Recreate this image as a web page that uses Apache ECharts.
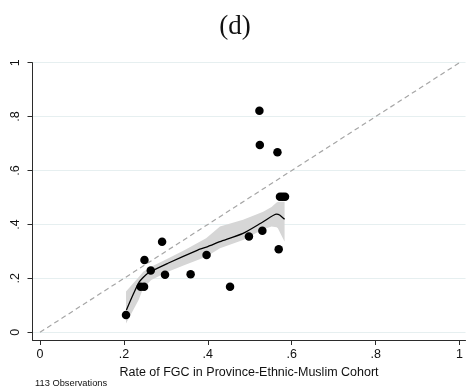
<!DOCTYPE html>
<html>
<head>
<meta charset="utf-8">
<script src="https://cdn.jsdelivr.net/npm/echarts@6/dist/echarts.min.js"></script>
<style>
  html, body { margin: 0; padding: 0; background: #fff; }
  #chart { width: 466px; height: 392px; }
</style>
</head>
<body>
<div id="chart"></div>
<script>
// Cohort-level observations: FGC rate (x) vs. outcome rate (y)
const cohortX = [0.205, 0.240, 0.248, 0.249, 0.264, 0.291, 0.298, 0.359, 0.397, 0.453,
                 0.498, 0.530, 0.569, 0.523, 0.524, 0.566, 0.572, 0.578, 0.584];
const cohortY = [0.064, 0.169, 0.169, 0.268, 0.229, 0.336, 0.213, 0.215, 0.287, 0.169,
                 0.355, 0.377, 0.308, 0.822, 0.695, 0.668, 0.503, 0.503, 0.503];

// Local polynomial fit and its confidence band
const fitX     = [0.206, 0.222, 0.237, 0.257, 0.305, 0.376, 0.400, 0.429, 0.484, 0.532, 0.564, 0.571, 0.583];
const fitY     = [0.083, 0.140, 0.188, 0.219, 0.256, 0.305, 0.318, 0.336, 0.367, 0.410, 0.438, 0.435, 0.419];
const bandX    = [0.205, 0.235, 0.246, 0.265, 0.305, 0.345, 0.396, 0.429, 0.484, 0.532, 0.552, 0.564, 0.567, 0.575, 0.583];
const bandUp   = [0.151, 0.204, 0.225, 0.243, 0.274, 0.305, 0.349, 0.392, 0.417, 0.447, 0.465, 0.481, 0.483, 0.484, 0.484];
const bandLow  = [0.033, 0.120, 0.163, 0.194, 0.225, 0.250, 0.280, 0.312, 0.342, 0.382, 0.392, 0.390, 0.386, 0.361, 0.336];

// 45-degree reference line
const diagonal = [[0, 0], [1, 1]];

// Tick positions and labels
const tickValues = [0, 0.2, 0.4, 0.6, 0.8, 1];
const tickLabels = ['0', '.2', '.4', '.6', '.8', '1'];

const labelOf = v => {
  const i = tickValues.findIndex(t => Math.abs(t - v) < 1e-9);
  return i >= 0 ? tickLabels[i] : '';
};

const points = cohortX.map((x, i) => [x, cohortY[i]]);
const fitLine = fitX.map((x, i) => [x, fitY[i]]);
const band = bandX.map((x, i) => [x, bandLow[i], bandUp[i]]);

const axisColor = '#2b2b2b';
const gridColor = '#e6eff0';
const font = '"Liberation Sans", Arial, Helvetica, sans-serif';

const chart = echarts.init(document.getElementById('chart'), null, { renderer: 'canvas' });

chart.setOption({
  animation: false,
  backgroundColor: '#ffffff',
  title: {
    text: '(d)',
    left: 230,
    top: 8,
    textAlign: 'center',
    textStyle: {
      fontFamily: '"Liberation Serif", "DejaVu Serif", serif',
      fontWeight: 'normal',
      fontSize: 27,
      color: '#111'
    }
  },
  graphic: [{
    type: 'text',
    left: 35,
    top: 379,
    style: {
      text: '113 Observations',
      fontFamily: font,
      fontSize: 9.3,
      fill: '#111'
    }
  }],
  grid: { left: 32.5, right: 0, top: 62.7, bottom: 52, containLabel: false },
  xAxis: {
    type: 'value',
    min: -0.0179,
    max: 1.0143,
    name: 'Rate of FGC in Province-Ethnic-Muslim Cohort',
    nameLocation: 'middle',
    nameGap: 20,
    nameTextStyle: { fontFamily: font, fontSize: 12.5, color: '#111' },
    axisLine: { show: true, onZero: false, lineStyle: { color: axisColor, width: 1 } },
    axisTick: { show: true, length: 5, customValues: tickValues, lineStyle: { color: axisColor } },
    axisLabel: {
      customValues: tickValues,
      formatter: labelOf,
      margin: 8,
      fontFamily: font, fontSize: 12.5, color: '#111'
    },
    splitLine: { show: false }
  },
  yAxis: {
    type: 'value',
    min: -0.0286,
    max: 1,
    axisLine: { show: true, onZero: false, lineStyle: { color: axisColor, width: 1 } },
    axisTick: { show: true, length: 5, customValues: tickValues, lineStyle: { color: axisColor } },
    axisLabel: {
      customValues: tickValues,
      formatter: labelOf,
      rotate: 90,
      margin: 10,
      fontFamily: font, fontSize: 12.5, color: '#111'
    },
    splitLine: { show: true, lineStyle: { color: gridColor, width: 1 } }
  },
  series: [
    {
      type: 'line',
      data: diagonal,
      showSymbol: false,
      silent: true,
      z: 2,
      lineStyle: { color: '#a6a6a6', width: 1.2, type: [5, 3.5] }
    },
    {
      type: 'custom',
      data: band,
      z: 3,
      silent: true,
      renderItem: (params, api) => {
        if (params.dataIndex !== 0) return null;
        const upper = band.map(d => api.coord([d[0], d[2]]));
        const lower = band.slice().reverse().map(d => api.coord([d[0], d[1]]));
        return {
          type: 'polygon',
          shape: { points: upper.concat(lower) },
          style: { fill: '#d6d6d6', stroke: null }
        };
      }
    },
    {
      type: 'line',
      data: fitLine,
      showSymbol: false,
      smooth: 0.2,
      silent: true,
      z: 4,
      lineStyle: { color: '#000', width: 1.3 }
    },
    {
      type: 'scatter',
      data: points,
      symbol: 'circle',
      symbolSize: 8.5,
      z: 5,
      itemStyle: { color: '#000', opacity: 1 }
    }
  ]
});
</script>
</body>
</html>
